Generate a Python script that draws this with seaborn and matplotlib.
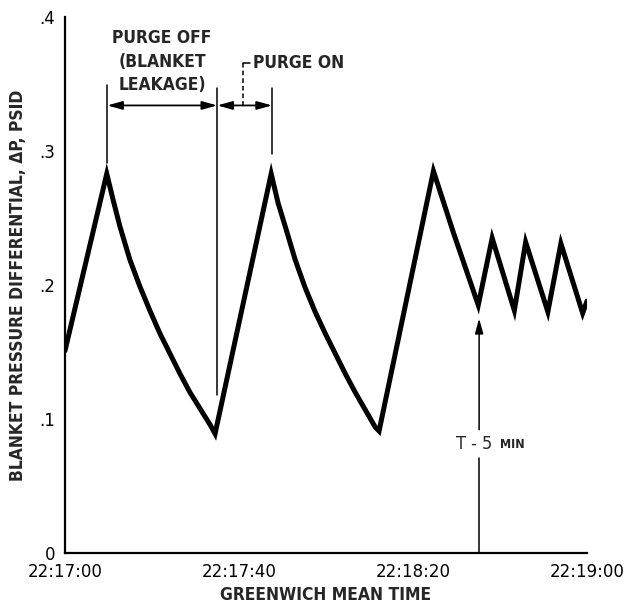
import pandas as pd
import seaborn as sns
import matplotlib.pyplot as plt
from matplotlib import font_manager as fm

# seconds after 22:17:00 GMT vs blanket pressure differential (psid)
t_sec = [0, 9.6, 11.1, 12.6, 14.9, 17.2, 19.5, 21.8, 24.1, 26.4, 28.7, 31.0, 33.3, 34.5,
         47.4, 49.0, 50.6, 52.9, 55.2, 57.5, 59.8, 62.1, 64.4, 66.7, 69.0, 71.3, 72.2,
         84.7, 89.3, 95.0, 98.2, 103.3, 105.9, 111.0, 114.0, 119.0, 120.0]
dp_psid = [0.151, 0.283, 0.263, 0.244, 0.219, 0.199, 0.181, 0.164, 0.149, 0.134, 0.120, 0.108, 0.096, 0.089,
           0.283, 0.261, 0.244, 0.219, 0.198, 0.180, 0.164, 0.149, 0.134, 0.120, 0.107, 0.094, 0.091,
           0.285, 0.239, 0.185, 0.235, 0.181, 0.232, 0.180, 0.231, 0.179, 0.188]

tick_sec = [0, 40, 80, 120]
tick_gmt = ["22:17:00", "22:17:40", "22:18:20", "22:19:00"]
ytick_vals = [0, 0.1, 0.2, 0.3, 0.4]
ytick_text = ["0", ".1", ".2", ".3", ".4"]

purge_off_lines = ["PURGE OFF", "(BLANKET", "LEAKAGE)"]


def narrow_font():
    # lettering in the original is condensed; use DejaVu condensed if it is there
    path = fm.findfont(fm.FontProperties(family="DejaVu Sans", stretch="condensed",
                                         weight="bold"))
    if "Condensed" in path:
        return dict(family="DejaVu Sans", fontstretch="condensed"), 1.0
    return dict(family="Liberation Sans"), 0.92


def main():
    sns.set_style("white")
    plt.rcParams['font.family'] = ['DejaVu Sans']
    nf, k = narrow_font()

    df = pd.DataFrame({"t": t_sec, "dp": dp_psid})

    fig = plt.figure(figsize=(6.28, 6.03), dpi=100)
    ax = fig.add_axes([65 / 628, 1 - 553 / 603, 522 / 628, 536 / 603])
    sns.lineplot(data=df, x="t", y="dp", color="black", linewidth=3.6,
                 estimator=None, sort=False, ax=ax)
    for ln in ax.lines:
        ln.set_solid_joinstyle("miter")

    ax.set_xlim(0, 120)
    ax.set_ylim(0, 0.4)
    sns.despine(ax=ax)
    for s in ["left", "bottom"]:
        ax.spines[s].set_linewidth(1.6)
        ax.spines[s].set_color("black")

    ax.set_xticks(tick_sec)
    ax.set_xticklabels(tick_gmt, fontsize=12)
    ax.set_yticks(ytick_vals)
    ax.set_yticklabels(ytick_text, fontsize=12)
    ax.tick_params(axis="x", direction="in", length=17, width=1.4, pad=7, colors="black")
    ax.tick_params(axis="y", direction="in", length=19, width=1.4, pad=7, colors="black")
    ax.set_xlabel("GREENWICH MEAN TIME", fontweight="bold",
                  fontsize=12.5 * k, labelpad=4, **nf)
    ax.set_ylabel("BLANKET PRESSURE DIFFERENTIAL, \u0394P, PSID",
                  fontweight="bold", fontsize=12.5 * k, labelpad=9, **nf)

    lw = 1.1
    # extension lines for the purge intervals
    ax.plot([9.7, 9.7], [0.349, 0.291], color="black", lw=lw)
    ax.plot([35.0, 35.0], [0.347, 0.118], color="black", lw=lw)
    ax.plot([47.6, 47.6], [0.347, 0.298], color="black", lw=lw)

    arrow = dict(arrowstyle="<|-|>,head_length=0.9,head_width=0.25",
                 color="black", lw=1.3, shrinkA=0, shrinkB=0)
    ax.annotate("", xy=(9.7, 0.334), xytext=(35.0, 0.334), arrowprops=arrow)
    ax.annotate("", xy=(35.0, 0.334), xytext=(47.6, 0.334), arrowprops=arrow)

    for i, line in enumerate(purge_off_lines):
        ax.text(22.3, 0.384 - i * 0.0175, line, ha="center", va="center",
                fontweight="bold", fontsize=12.5 * k, **nf)

    # PURGE ON leader
    ax.plot([40.9, 42.6], [0.366, 0.366], color="black", lw=lw)
    ax.plot([40.9, 40.9], [0.366, 0.334], color="black", lw=lw, ls=(0, (3, 2)))
    ax.text(43.3, 0.366, "PURGE ON", ha="left", va="center",
            fontweight="bold", fontsize=12.5 * k, **nf)

    # T - 5 min marker
    ax.plot([95.2, 95.2], [0, 0.071], color="black", lw=lw)
    ax.annotate("", xy=(95.2, 0.175), xytext=(95.2, 0.092),
                arrowprops=dict(arrowstyle="-|>,head_length=0.9,head_width=0.25",
                                color="black", lw=lw, shrinkA=0, shrinkB=0))
    ax.text(98.2, 0.081, "T - 5", ha="right", va="center",
            fontsize=13 * k, **nf)
    ax.text(99.9, 0.081, "MIN", ha="left", va="center",
            fontweight="bold", fontsize=9 * k, **nf)

    plt.savefig("out.png", dpi=100)


if __name__ == "__main__":
    main()
